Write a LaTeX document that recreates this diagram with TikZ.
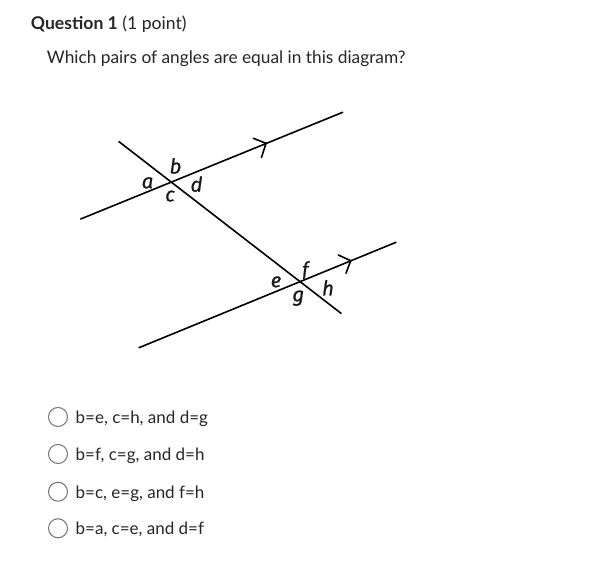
\documentclass[tikz,border=0pt]{standalone}
\usepackage{fontspec}
\setmainfont{Lato}
\newfontfamily\labfont[FakeBold=0.7]{Fira Sans}
\newfontfamily\labfontf[FakeBold=0.7]{Lato}
\begin{document}
\begin{tikzpicture}[x=1pt,y=-1pt,
  txt/.style={anchor=base west,inner sep=0pt,text=black!85},
  lab/.style={anchor=base,inner sep=0pt,text=black!90,font=\labfont\itshape\fontsize{20.5}{20.5}\selectfont},
  ln/.style={line width=1.6pt,line cap=round},
  radio/.style={circle,draw=black!55,line width=1pt,minimum size=19pt,inner sep=0pt}]
\useasboundingbox (0,0) rectangle (611,561);
\fill[white] (0,0) rectangle (611,561);
% title
\node[txt,font=\fontsize{17.6}{17.6}\selectfont] (title) at (30.7,29.3) {\textbf{Question 1} (1 point)};
\node[txt,font=\fontsize{17.3}{17.3}\selectfont] (quest) at (46.7,63.3) {Which pairs of angles are equal in this diagram?};
% lines
\coordinate (u1) at (80.7,219);
\coordinate (u2) at (342.7,112.3);
\coordinate (l1) at (139,347.7);
\coordinate (l2) at (396,242.3);
\coordinate (t1) at (119,141.7);
\coordinate (t2) at (341,313.3);
\draw[ln] (u1) -- (u2);
\draw[ln] (l1) -- (l2);
\draw[ln] (t1) -- (t2);
% arrow chevrons
\coordinate (ua) at (266,143.3);
\coordinate (uaw1) at (253.3,138.3);
\coordinate (uaw2) at (261.5,157.5);
\draw[ln] (uaw1) -- (ua) -- (uaw2);
\coordinate (la) at (350.7,260.7);
\coordinate (law1) at (338.3,255);
\coordinate (law2) at (346,273.3);
\draw[ln] (law1) -- (la) -- (law2);
% labels
\node[lab] (a) at (147.5,188.3) {a};
\node[lab] (b) at (175.5,173.5) {b};
\node[lab] (c) at (170,201.5) {c};
\node[lab] (d) at (196.5,191.7) {d};
\node[lab] (e) at (276,287.3) {e};
\node[lab,font=\labfontf\itshape\fontsize{21}{21}\selectfont] (f) at (305.5,276.5) {f};
\node[lab] (g) at (298.3,301.5) {g};
\node[lab] (h) at (328,295.5) {h};
% options
\foreach \y/\t [count=\i] in {417/{b=e, c=h, and d=g},454/{b=f, c=g, and d=h},491.7/{b=c, e=g, and f=h},528.3/{b=a, c=e, and d=f}}{
  \node[radio] (r\i) at (58,\y) {};
  \node[txt,font=\fontsize{17}{17}\selectfont,anchor=base west] (o\i) at (75.5,\y+6.5) {\t};
}
\end{tikzpicture}
\end{document}
